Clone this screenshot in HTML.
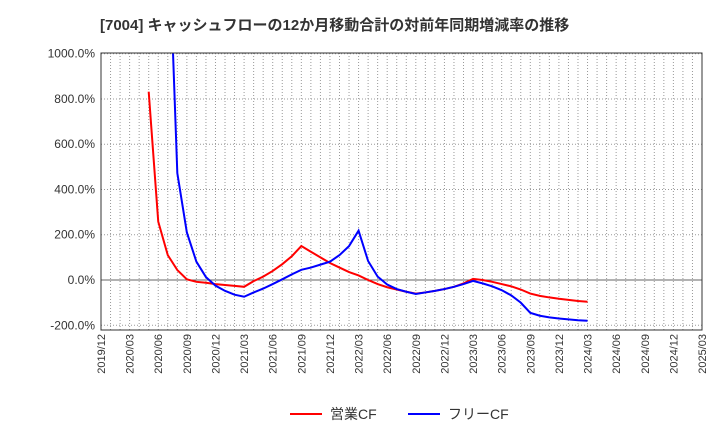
<!DOCTYPE html>
<html><head><meta charset="utf-8"><style>
body{margin:0;background:#fff;width:720px;height:440px;overflow:hidden;font-family:"Liberation Sans","Noto Sans CJK JP",sans-serif}
</style></head><body>
<svg width="720" height="440">
<text x="100" y="30" font-size="15" font-weight="bold" fill="#333">[7004]  キャッシュフローの12か月移動合計の対前年同期増減率の推移</text>
<g id="grid"></g><g id="yl"></g><g id="xl"></g>
<defs><clipPath id="pc"><rect x="101" y="53" width="601" height="277"/></clipPath></defs>
<g id="series" clip-path="url(#pc)"></g>
<rect x="101" y="53" width="601" height="277" fill="none" stroke="#333"/>
<g>
<line x1="290" y1="414" x2="322" y2="414" stroke="#f00" stroke-width="2"/>
<text x="330" y="419" font-size="14" fill="#333">営業CF</text>
<line x1="408" y1="414" x2="440" y2="414" stroke="#00f" stroke-width="2"/>
<text x="448" y="419" font-size="14" fill="#333">フリーCF</text>
</g>
</svg>
<script>
const yTicks=[1000,800,600,400,200,0,-200];
const redStart=5;
const redVals=[832,258,110,44,3,-8,-12,-18,-22,-26,-30,-5,15,40,70,105,150,125,100,75,55,35,20,0,-18,-32,-42,-52,-60,-55,-48,-40,-30,-15,5,0,-8,-18,-28,-42,-60,-70,-77,-83,-88,-93,-96];
const blueStart=7;
const blueVals=[1650,472,210,81,13,-25,-48,-65,-74,-55,-38,-18,3,25,45,55,68,81,110,150,218,84,15,-20,-40,-52,-62,-55,-48,-40,-30,-18,-4,-15,-28,-45,-68,-100,-145,-158,-165,-170,-174,-178,-180];
const xLabels=[];for(let y=2019,m=12;xLabels.length<22;){xLabels.push(y+'/'+String(m).padStart(2,'0'));m+=3;if(m>12){m-=12;y++;}}
const NS='http://www.w3.org/2000/svg';
const X=i=>101+i*601/63, Y=v=>280-v*0.2263;
function mk(t,a,p){const e=document.createElementNS(NS,t);for(const k in a)e.setAttribute(k,a[k]);document.getElementById(p).appendChild(e);return e;}
for(let i=1;i<63;i++){const l=mk('line',{x1:X(i),x2:X(i),y1:53,y2:330,stroke:'#999','stroke-dasharray':'1,2'},'grid');

}
yTicks.forEach(v=>{const l=mk('line',{x1:101,x2:702,y1:Y(v),y2:Y(v),stroke:v===0?'#666':'#999','stroke-dasharray':v===0?'':'1,2'},'grid');


const t=mk('text',{x:95,y:Y(v)+4,'text-anchor':'end','font-size':12,fill:'#333'},'yl');t.textContent=v.toFixed(1)+'%';

});
xLabels.forEach((s,k)=>{const x=X(k*3);const t=mk('text',{x:0,y:0,transform:`translate(${x+4},334) rotate(-90)`,'text-anchor':'end','font-size':11,fill:'#333'},'xl');t.textContent=s;

});
function line(vals,st,c,n){const p=mk('polyline',{points:vals.map((v,i)=>X(st+i)+','+Y(v)).join(' '),fill:'none',stroke:c,'stroke-width':2},'series');

}
line(redVals,redStart,'#f00','operating-cf-line');
line(blueVals,blueStart,'#00f','free-cf-line');
</script>
</body></html>
